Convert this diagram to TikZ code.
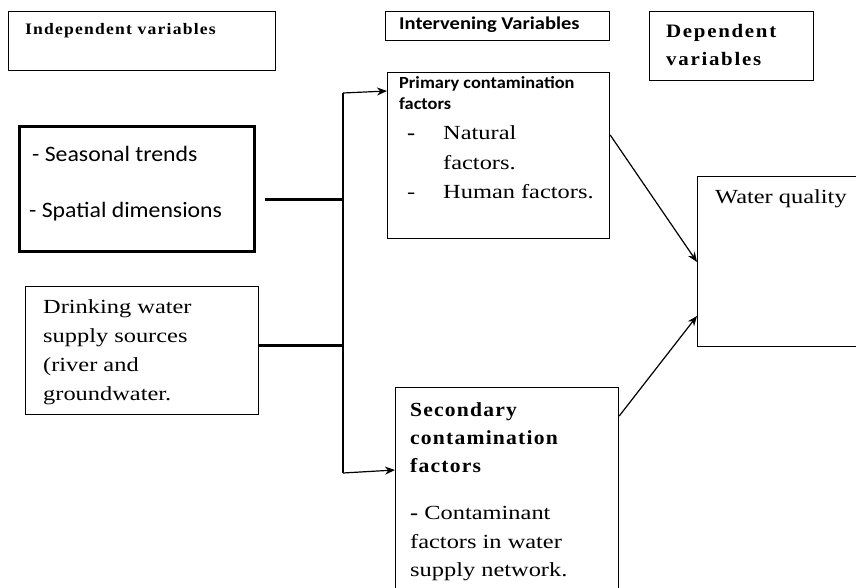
\documentclass[tikz,border=0pt]{standalone}
\usepackage{fontspec}
\setmainfont{Liberation Serif}
\newfontfamily\calib{Carlito}
\usetikzlibrary{arrows.meta}
\tikzset{
  box/.style={draw, line width=1.2pt, anchor=north west, inner sep=0pt},
  thickbox/.style={draw, line width=3pt, anchor=north west, inner sep=0pt},
  txt/.style={anchor=base west, inner sep=0pt},
  serif/.style={txt, font=\fontsize{20}{20}\selectfont\addfontfeature{FakeStretch=1.22}},
  sans/.style={txt, font=\calib\fontsize{22}{22}\selectfont\addfontfeature{FakeStretch=1.08}},
  hdr/.style={txt, font=\bfseries\fontsize{16}{16}\selectfont\addfontfeature{FakeStretch=1.1,LetterSpace=7.5}},
  dephdr/.style={txt, font=\bfseries\fontsize{19}{19}\selectfont\addfontfeature{FakeStretch=1.1,LetterSpace=9}},
  sechdr/.style={txt, font=\bfseries\fontsize{20}{20}\selectfont\addfontfeature{FakeStretch=1.08,LetterSpace=6}},
  sanshdr/.style={txt, font=\calib\bfseries\fontsize{18}{18}\selectfont\addfontfeature{FakeStretch=1.14}},
  primhdr/.style={txt, font=\calib\bfseries\fontsize{17}{17}\selectfont\addfontfeature{FakeStretch=1.08}},
  link/.style={line width=3pt},
  trunk/.style={line width=1.5pt},
  arr/.style={line width=1.2pt, -{Stealth[length=10pt,width=8pt]}}
}
\begin{document}
\begin{tikzpicture}[x=1pt,y=-1pt]
\useasboundingbox (0,0) rectangle (856,588);
% header boxes
\node[box, minimum width=267, minimum height=59] (indep) at (8,11) {};
\node[hdr] (indept) at (25,35) {Independent variables};
\node[box, minimum width=224, minimum height=29] (interv) at (385,11) {};
\node[sanshdr] (intervt) at (399,30) {Intervening Variables};
\node[box, minimum width=164, minimum height=69] (dep) at (649,11) {};
\node[dephdr] (dept1) at (666,38) {Dependent};
\node[dephdr] (dept2) at (666,66) {variables};
% primary
\node[box, minimum width=222, minimum height=166] (prim) at (387,72) {};
\node[primhdr] (p1) at (399,89) {Primary contamination};
\node[primhdr] (p2) at (399,110) {factors};
\node[serif] (p3) at (407,140) {\textbf{-}};
\node[serif] (p4) at (443,140) {Natural};
\node[serif] (p5) at (443,170) {factors.};
\node[serif] (p6) at (407,198) {-};
\node[serif] (p7) at (443,198) {Human factors.};
% seasonal
\node[thickbox, minimum width=235, minimum height=125] (seas) at (18,125) {};
\node[sans] (s1) at (32,162) {- Seasonal trends};
\node[sans] (s2) at (29,217) {- Spatial dimensions};
% drinking
\node[box, minimum width=233, minimum height=128] (drink) at (25,286) {};
\node[serif] (d1) at (43,313) {Drinking water};
\node[serif] (d2) at (43,342) {supply sources};
\node[serif] (d3) at (43,371) {(river and};
\node[serif] (d4) at (43,400) {groundwater.};
% water quality
\node[box, minimum width=165, minimum height=170] (wq) at (697,176) {};
\node[serif] (w1) at (715,204) {Water quality};
% secondary
\node[box, minimum width=223, minimum height=210] (sec) at (395,387) {};
\node[sechdr] (c1) at (410,416) {Secondary};
\node[sechdr] (c2) at (410,444) {contamination};
\node[sechdr] (c3) at (410,472) {factors};
\node[serif] (c4) at (410,519) {\textbf{-} Contaminant};
\node[serif] (c5) at (410,548) {factors in water};
\node[serif] (c6) at (410,576) {supply network.};
% connectors
\coordinate (jtop) at (343,93);
\coordinate (jbot) at (343,473);
\coordinate (js) at (343,199);
\coordinate (jd) at (343,345);
\draw[link] ([xshift=9pt]seas.east |- js) -- (js);
\draw[link] (drink.east |- jd) -- (jd);
\draw[trunk] (jtop) -- (jbot);
\draw[arr] (jtop) -- (prim.west |- 0,91);
\draw[arr] (jbot) -- (sec.west |- 0,470);
\draw[arr] (prim.east |- 0,135) -- (wq.west |- 0,262);
\draw[arr] (sec.east |- 0,416) -- (wq.west |- 0,316);
\end{tikzpicture}
\end{document}
